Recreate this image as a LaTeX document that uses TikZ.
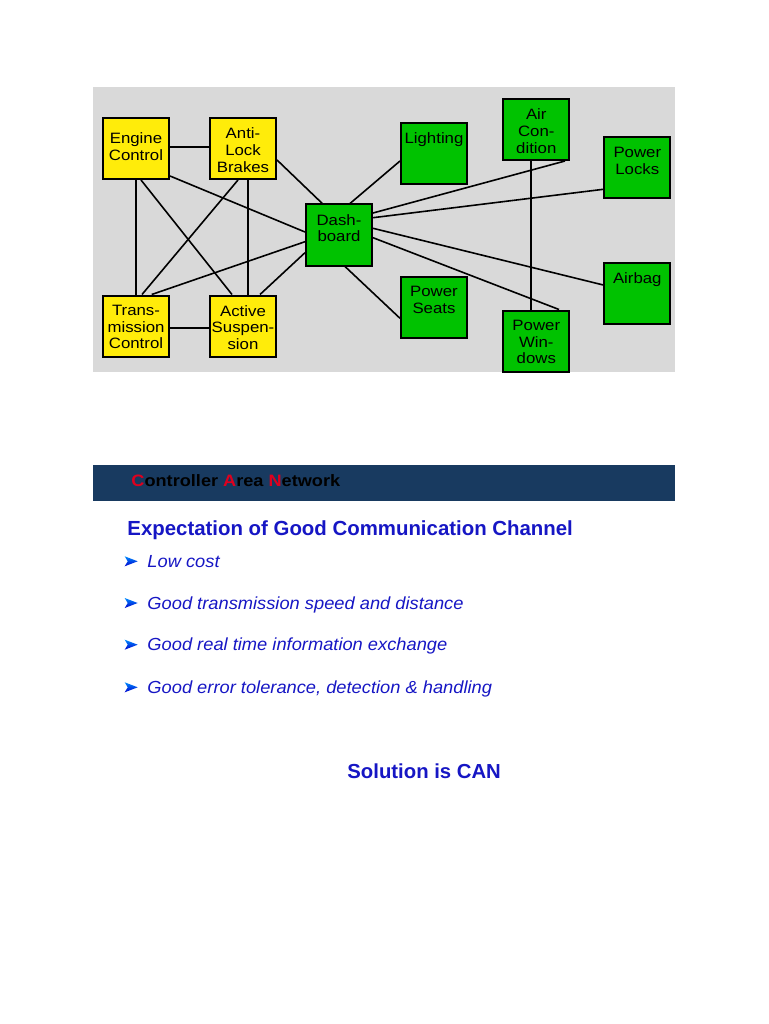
\documentclass[tikz,border=0pt]{standalone}
\usepackage{fontspec}
\setmainfont{Liberation Sans}
\newfontfamily\boxfont[FakeStretch=1.12]{Liberation Sans}
\newfontfamily\widefont[FakeStretch=1.045]{Liberation Sans}
\newfontfamily\bannerfont[FakeStretch=1.1]{Liberation Sans}
\usepackage{tikz}
\usetikzlibrary{calc}
\definecolor{panelgray}{RGB}{217,217,217}
\definecolor{ecuyellow}{RGB}{255,236,10}
\definecolor{unitgreen}{RGB}{0,194,0}
\definecolor{bannerblue}{RGB}{24,58,96}
\definecolor{textblue}{RGB}{22,22,196}
\definecolor{canred}{RGB}{222,0,30}
\tikzset{
every picture/.style={x=1pt, y=-1pt, line width=1.5pt},
%%%%%%%%%%  Node styles
boxtext/.style={anchor=north, inner sep=0pt, align=center,
                font=\boxfont\fontsize{15}{16.7}\selectfont},
ecu/.style={draw=black, line width=2pt, fill=ecuyellow,
            minimum width=66, minimum height=61, inner sep=0pt,
            label={[boxtext, yshift=-10pt]north:#1}},
unit/.style={draw=black, line width=2pt, fill=unitgreen,
             minimum width=66, minimum height=61, inner sep=0pt,
             label={[boxtext, yshift=-10pt]north:#1}},
%%%% line styles:
link/.style={line width=1.6pt, draw=black},
%%%%%%% text styles
bullet/.style={anchor=base west, inner sep=0pt, text=textblue,
               font=\widefont\fontsize{17.5}{20}\selectfont\itshape},
marker/.style={top color=cyan!55!blue, bottom color=blue!80!black}
}

\begin{document}
\begin{tikzpicture}
\useasboundingbox (0,0) rectangle (768,1024);
\fill[panelgray] (93,87) rectangle (675,372);
%%%%%%%%%% ECUs
\node[ecu={}] (eng) at (136,148.5) {};
\node[boxtext] (engtext) at ([yshift=-15pt]eng.north) {Engine\\Control};
\node[ecu={Anti-\\Lock\\Brakes}] (abs) at (243,148.5) {};
\node[ecu={Trans-\\mission\\Control}] (trans) at (136,326) {};
\node[ecu={Active\\Suspen-\\sion}] (susp) at (243,326) {};
%%%%%%%%%% body units
\node[unit={Dash-\\board}] (dash) at (339,235) {};
\node[unit={Lighting}] (light) at (434,153.5) {};
\node[unit={Air\\Con-\\dition}] (aircon) at (536.3,129.5) {};
\node[unit={Power\\Locks}] (locks) at (637.3,168) {};
\node[unit={Power\\Seats}] (seats) at (434,307) {};
\node[unit={Power\\Win-\\dows}] (windows) at (536.3,341) {};
\node[unit={Airbag}] (airbag) at (637.3,293) {};
%%%%%%%%%% wiring
\draw[link] ([yshift=1.5pt]eng.east) -- ([yshift=1.5pt]abs.west);
\draw[link] (eng.south) -- (trans.north);
\draw[link] ([xshift=5pt]eng.south) -- ([xshift=-11pt]susp.north);
\draw[link] ([yshift=4pt]eng.south east) -- ([yshift=3pt]dash.west);
\draw[link] ([xshift=-5pt]abs.south) -- ([xshift=6pt]trans.north);
\draw[link] ([xshift=5pt]abs.south) -- ([xshift=5pt]susp.north);
\draw[link] ([yshift=-11.5pt]abs.east) -- ([xshift=-16.7pt]dash.north);
\draw[link] ([yshift=-2pt]trans.east) -- ([yshift=-2pt]susp.west);
\draw[link] ([xshift=15.7pt]trans.north) -- ([yshift=-6.7pt]dash.west);
\draw[link] ([xshift=17pt]susp.north) -- ([yshift=-17.7pt]dash.west);
\draw[link] ([xshift=11pt]dash.north) -- ([yshift=-7.5pt]light.west);
\draw[link] ([yshift=22pt]dash.east) -- ([xshift=28.7pt]aircon.south);
\draw[link] ([yshift=17.3pt]dash.east) -- ([yshift=-21.3pt]locks.west);
\draw[link] ([yshift=6.7pt]dash.east) -- ([yshift=8pt]airbag.west);
\draw[link] ([yshift=-2.7pt]dash.east) -- ([xshift=22.7pt]windows.north);
\draw[link] ([xshift=6pt]dash.south) -- ([yshift=-11.3pt]seats.west);
\draw[link] ([xshift=-5.3pt]aircon.south) -- ([xshift=-5.3pt]windows.north);
%%%%%%%%%% slide text
\fill[bannerblue] (93,465) rectangle (675,501);
\node[anchor=base west, inner sep=0pt, font=\bannerfont\fontsize{16.5}{18}\selectfont\bfseries] (title) at (130.7,486)
  {\textcolor{canred}{C}ontroller \textcolor{canred}{A}rea \textcolor{canred}{N}etwork};
\node[anchor=base west, inner sep=0pt, text=textblue, font=\fontsize{20.4}{24}\selectfont\bfseries] (head) at (126.7,535)
  {Expectation of Good Communication Channel};
\node[bullet] (b1) at (146.7,567.3) {Low cost};
\node[bullet] (b2) at (146.7,609) {Good transmission speed and distance};
\node[bullet] (b3) at (146.7,650.7) {Good real time information exchange};
\node[bullet] (b4) at (146.7,693.3) {Good error tolerance, detection \& handling};
\shade[marker] ([xshift=-22pt,yshift=11pt]b1.base west) -- ++(13,5) -- ++(-13,5) -- ++(3,-5) -- cycle;
\shade[marker] ([xshift=-22pt,yshift=11pt]b2.base west) -- ++(13,5) -- ++(-13,5) -- ++(3,-5) -- cycle;
\shade[marker] ([xshift=-22pt,yshift=11pt]b3.base west) -- ++(13,5) -- ++(-13,5) -- ++(3,-5) -- cycle;
\shade[marker] ([xshift=-22pt,yshift=11pt]b4.base west) -- ++(13,5) -- ++(-13,5) -- ++(3,-5) -- cycle;
\node[anchor=base west, inner sep=0pt, text=textblue, font=\fontsize{20.3}{24}\selectfont\bfseries] (sol) at (346.7,778.3)
  {Solution is CAN};
\end{tikzpicture}
\end{document}
